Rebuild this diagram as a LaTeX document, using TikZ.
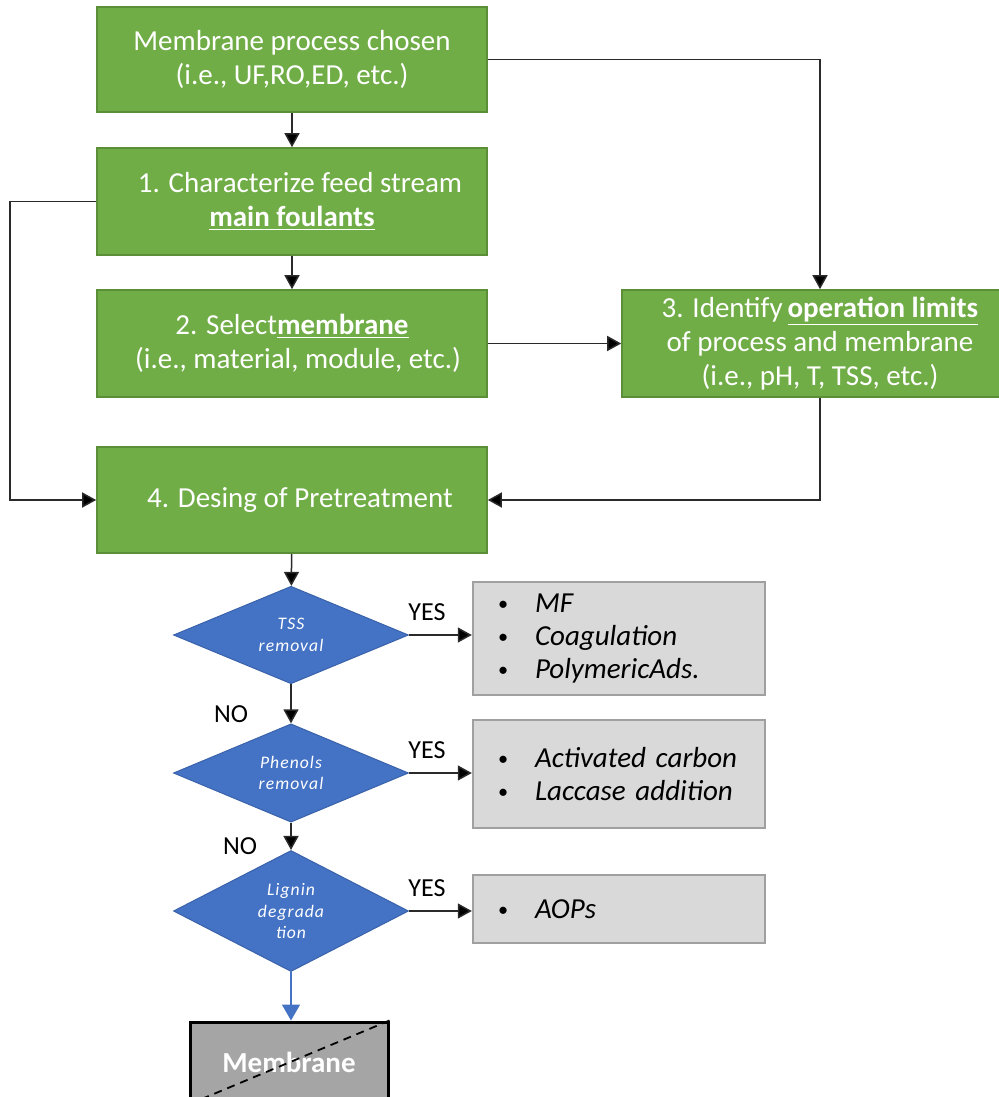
\documentclass[tikz,border=0pt]{standalone}
\usepackage{fontspec}
\setmainfont{Carlito}
\newfontfamily\diafont[LetterSpace=6]{Carlito}
\usetikzlibrary{shapes.geometric,arrows.meta}
\definecolor{gfill}{HTML}{70AD47}
\definecolor{gborder}{HTML}{5A8F38}
\definecolor{dfill}{HTML}{4472C4}
\definecolor{dborder}{HTML}{3A62AA}
\definecolor{grayfill}{HTML}{D9D9D9}
\definecolor{grayborder}{HTML}{A0A0A0}
\definecolor{memfill}{HTML}{A5A5A5}
\definecolor{linecol}{HTML}{2A2A2A}
\tikzset{
  gbox/.style={rectangle, fill=gfill, draw=gborder, line width=0.8pt, text=white,
    font=\fontsize{14.5}{17}\selectfont, minimum width=195pt, align=center, inner sep=0pt},
  dia/.style={diamond, fill=dfill, draw=dborder, line width=0.5pt, text=white,
    font=\diafont\itshape\fontsize{8.8}{10.7}\selectfont, minimum width=117.5pt,
    minimum height=47pt, inner sep=0pt, align=center},
  graybox/.style={rectangle, fill=grayfill, draw=grayborder, line width=1.2pt,
    font=\itshape\fontsize{14.5}{16.5}\selectfont, minimum width=146pt,
    inner xsep=12.5pt, inner ysep=0pt, text width=121pt, align=left},
  lbl/.style={font=\fontsize{13}{15}\selectfont, inner sep=0pt},
  arr/.style={draw=linecol, line width=0.75pt, -{Triangle[width=7.5pt,length=7pt,fill=black]}},
}
\newcommand{\bul}[1]{\makebox[18.5pt][l]{\raisebox{0.8pt}{\scalebox{0.7}{\textup{\textbullet}}}}#1}
\begin{document}
\begin{tikzpicture}[x=0.5pt,y=-0.5pt]
\path[use as bounding box] (0,0) rectangle (999,1097);
\clip (0,0) rectangle (999,1097);
\fill[white] (0,0) rectangle (999,1097);

\node[gbox, minimum height=52.5pt] (b0) at (292,59.5) {Membrane process chosen\\(i.e., UF,RO,ED, etc.)};
\node[gbox, minimum height=53.5pt] (b1) at (292,201.5) {\hspace*{8pt}1. Characterize feed stream\\\underline{\textbf{main foulants}}};
\node[gbox, minimum height=53.5pt] (b2) at (292,343.5) {2. Select\underline{\textbf{membrane}}\\\hspace*{6pt}(i.e., material, module, etc.)};
\node[gbox, minimum height=53.5pt, minimum width=198pt] (b3) at (820,343.5) {3. Identify\,\underline{\textbf{operation limits}}\\of process and membrane\\(i.e., pH, T, TSS, etc.)};
\node[gbox, minimum height=53pt] (b4) at (292,500) {\hspace*{8pt}4. Desing of Pretreatment};

\node[dia] (d1) at (291,635) {TSS\\removal};
\node[dia] (d2) at (291,773) {Phenols\\removal};
\node[dia] (d3) at (291,911) {Lignin\\degrada\\tion};

\node[graybox, minimum height=56.5pt] (g1) at (619,638.5) {\bul{MF}\\\bul{Coagulation}\\\bul{PolymericAds.}};
\node[graybox, minimum height=54pt] (g2) at (619,774) {\bul{Activated carbon}\\\bul{Laccase addition}};
\node[graybox, minimum height=34pt] (g3) at (619,909) {\bul{AOPs}};

\node[rectangle, fill=memfill, draw=black, line width=1.5pt, minimum width=99pt,
  minimum height=40.5pt, text=white, font=\bfseries\fontsize{14.5}{17}\selectfont] (mem) at (289,1062.5) {Membrane};
\draw[dash pattern=on 4pt off 3pt, line width=0.9pt] (mem.south west) -- (mem.north east);

\node[lbl] (y1) at (427,612) {YES};
\node[lbl] (y2) at (427,750) {YES};
\node[lbl] (y3) at (427,888) {YES};
\node[lbl] (n1) at (231,714) {NO};
\node[lbl] (n2) at (240,846) {NO};

\coordinate (L) at (10,201.5);
\draw[arr] (b0) -- (b1);
\draw[arr] (b0.east) -| (b3.north);
\draw[arr] (b1) -- (b2);
\draw[arr] (b1.west) -- (L) |- (b4.west);
\draw[arr] (b2.east) -- (b3.west);
\draw[arr] (b3.south) |- (b4.east);
\draw[arr] (b4) -- (d1);
\draw[arr] (d1) -- (d2);
\draw[arr] (d2) -- (d3);
\draw[draw=dfill, line width=0.75pt, -{Triangle[width=9pt,length=8pt,fill=dfill]}] (d3.south) -- (d3.south |- mem.north);
\draw[arr] (d1.east) -- (d1.east -| g1.west);
\draw[arr] (d2.east) -- (d2.east -| g2.west);
\draw[arr] (d3.east) -- (d3.east -| g3.west);
\end{tikzpicture}
\end{document}
